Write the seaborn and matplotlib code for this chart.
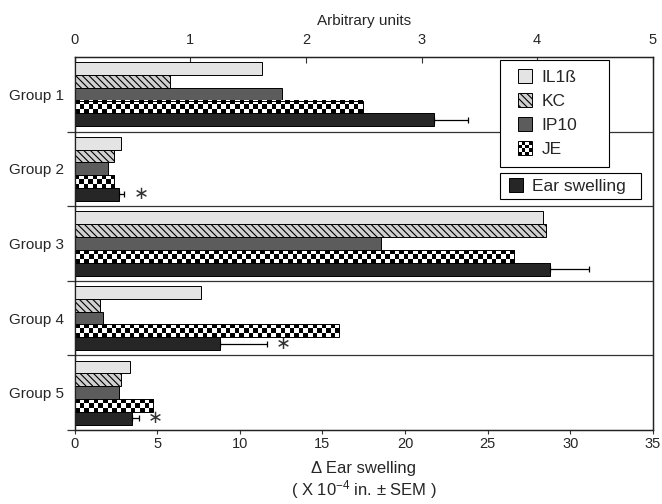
import matplotlib
matplotlib.use('Agg')
import matplotlib.pyplot as plt
from matplotlib.patches import Patch, Rectangle
from matplotlib.colors import to_rgba
from matplotlib.legend_handler import HandlerBase, HandlerPatch
import seaborn as sns
import pandas as pd
import numpy as np

# values
groups = ['Group 1', 'Group 2', 'Group 3', 'Group 4', 'Group 5']
cytokines = ['IL1ß', 'KC', 'IP10', 'JE']
il1b = [1.62, 0.40, 4.05, 1.09, 0.48]
kc = [0.82, 0.34, 4.08, 0.22, 0.40]
ip10 = [1.79, 0.29, 2.65, 0.24, 0.38]
je = [2.49, 0.34, 3.80, 2.29, 0.68]
ear = [21.75, 2.7, 28.8, 8.8, 3.45]
ear_sem = [2.05, 0.3, 2.36, 2.85, 0.42]
significant = [False, True, False, True, True]

arb_ticks = [0, 1, 2, 3, 4, 5]
ear_ticks = [0, 5, 10, 15, 20, 25, 30, 35]

sns.set_theme(style='white')
plt.rcParams['font.family'] = ['Liberation Sans', 'DejaVu Sans']
plt.rcParams['mathtext.default'] = 'regular'
plt.rcParams['hatch.linewidth'] = 0.8

# long table: cytokines on the arbitrary-unit axis, ear swelling on the other
rows = []
for i, g in enumerate(groups):
    for name, vals in zip(cytokines, [il1b, kc, ip10, je]):
        rows.append({'group': g, 'marker': name, 'arb': vals[i], 'ear': np.nan})
    rows.append({'group': g, 'marker': 'Ear swelling', 'arb': np.nan, 'ear': ear[i]})
df = pd.DataFrame(rows)
hue_order = cytokines + ['Ear swelling']

styles = {
    'IL1ß': dict(facecolor='#e4e4e4', hatch=None),
    'KC': dict(facecolor='#d0d0d0', hatch='\\\\\\\\\\'),
    'IP10': dict(facecolor='#5c5c5c', hatch=None),
    'JE': dict(facecolor='white', hatch=None),
    'Ear swelling': dict(facecolor='#262626', hatch=None),
}
palette = {k: v['facecolor'] for k, v in styles.items()}


def square_key(legend, orig_handle, xdescent, ydescent, width, height, fontsize):
    # square key pushed to the right end of the handle box
    return Rectangle((-xdescent + width - height, -ydescent), height, height)


class CheckerHandler(HandlerBase):
    # legend key drawn as a small black/white checkerboard
    def create_artists(self, legend, orig_handle, xdescent, ydescent,
                       width, height, fontsize, trans):
        n = 4
        x0 = -xdescent + width - height
        y0 = -ydescent
        c = height / n
        arts = [Rectangle((x0, y0), height, height, facecolor='white',
                          edgecolor='none', transform=trans)]
        for i in range(n):
            for j in range(n):
                if (i + j) % 2 == 0:
                    arts.append(Rectangle((x0 + i * c, y0 + j * c), c, c,
                                          facecolor='black', edgecolor='none',
                                          transform=trans))
        arts.append(Rectangle((x0, y0), height, height, facecolor='none',
                              edgecolor='black', lw=0.7, transform=trans))
        return arts


fig = plt.figure(figsize=(6.62, 5.04), dpi=100)
ax = fig.add_axes([0.113, 0.147, 0.873, 0.740])
ax_top = ax.twiny()

sns.barplot(data=df, x='ear', y='group', hue='marker', hue_order=hue_order,
            palette=palette, order=groups, width=0.86, errorbar=None,
            legend=False, edgecolor='black', linewidth=0.7, ax=ax)
sns.barplot(data=df, x='arb', y='group', hue='marker', hue_order=hue_order,
            palette=palette, order=groups, width=0.86, errorbar=None,
            legend=False, edgecolor='black', linewidth=0.7, ax=ax_top)

ax.set_xlim(0, 35)
ax_top.set_xlim(0, 5)
ax.set_ylim(len(groups) - 0.5, -0.5)

# hatches, matched by face colour
je_bars = []
for p in ax_top.patches:
    fc = p.get_facecolor()
    if np.allclose(fc, to_rgba(palette['KC'])):
        p.set_hatch(styles['KC']['hatch'])
    elif np.allclose(fc, to_rgba(palette['JE'])) and np.isfinite(p.get_width()) and p.get_width() > 0:
        je_bars.append(p)

# checkerboard fill for JE bars
for p in je_bars:
    x0, y0, w, h = p.get_x(), p.get_y(), p.get_width(), p.get_height()
    a = ax_top.transData.transform((x0, y0))
    b = ax_top.transData.transform((x0 + w, y0 + h))
    ncol = max(1, int(round(abs(b[0] - a[0]) / 4.6)))
    board = np.indices((3, ncol)).sum(axis=0) % 2
    ax_top.imshow(board, cmap='gray', vmin=0, vmax=1, interpolation='nearest',
                  aspect='auto', extent=(x0, x0 + w, y0 + h, y0), zorder=1.5)
    p.set_facecolor('none')
    p.set_zorder(1.6)
ax_top.set_xlim(0, 5)
ax.set_ylim(len(groups) - 0.5, -0.5)

# error bars and asterisks on ear swelling
ear_bars = [p for p in ax.patches
            if np.isfinite(p.get_width()) and p.get_width() > 0]
ear_bars.sort(key=lambda p: p.get_y())
ys = [p.get_y() + p.get_height() / 2 for p in ear_bars]
ax.errorbar(ear, ys, xerr=[np.zeros(len(ear)), ear_sem], fmt='none',
            ecolor='black', elinewidth=0.9, capsize=2.5, capthick=0.9)
for x, e, y, s in zip(ear, ear_sem, ys, significant):
    if s:
        ax.text(x + e + 1.0, y, '\u2217', ha='center', va='center',
                fontsize=13, family='DejaVu Sans', color='#333333')

# group separators
for k in range(len(groups) - 1):
    ax.axhline(k + 0.5, color='#333333', lw=0.9)

ax.set_xticks(ear_ticks)
ax_top.set_xticks(arb_ticks)

ax.set_ylabel('')
ax_top.set_ylabel('')
ax.set_xlabel('\u0394 Ear swelling\n( X 10$^{-4}$ in. \u00b1 SEM )', fontsize=12,
              labelpad=7, linespacing=1.12)
ax_top.set_xlabel('Arbitrary units', fontsize=11, labelpad=6)

ax.tick_params(axis='x', direction='out', length=3, width=0.8, labelsize=10.5,
               color='#333333', bottom=True, pad=2)
ax_top.tick_params(axis='x', direction='in', length=4, width=0.8, labelsize=10.5,
                   color='#333333', top=True, pad=7)
ax.tick_params(axis='y', length=0, labelsize=11, pad=8)
ax.set_yticks(range(len(groups)))
ax.set_yticklabels(groups)
ax.set_yticks(np.arange(0.5, len(groups), 1.0), minor=True)
ax.tick_params(axis='y', which='minor', left=True, direction='out', length=6,
               width=0.9, color='#333333')

for a in (ax, ax_top):
    for sp in a.spines.values():
        sp.set_color('#222222')
        sp.set_linewidth(0.9)

# legends
handles = []
for name in cytokines:
    st = styles[name]
    handles.append(Patch(facecolor=st['facecolor'], edgecolor='black',
                         hatch=st['hatch'], linewidth=0.7, label=name))
hmap = {h: HandlerPatch(patch_func=square_key) for h in handles[:3]}
hmap[handles[3]] = CheckerHandler()
leg1 = ax_top.legend(handles=handles, handler_map=hmap,
                     loc='upper left', bbox_to_anchor=(0.736, 0.70, 0.189, 0.292),
                     mode='expand', frameon=True, fancybox=False, framealpha=1,
                     edgecolor='black', fontsize=12.5, handlelength=1.3,
                     handleheight=0.85, labelspacing=0.46, handletextpad=0.55,
                     borderpad=0.55, borderaxespad=0)
leg1.get_frame().set_linewidth(0.8)
ax_top.add_artist(leg1)
h2 = [Patch(facecolor=styles['Ear swelling']['facecolor'], edgecolor='black',
            linewidth=0.7, label='Ear swelling')]
leg2 = ax_top.legend(handles=h2, handler_map={h2[0]: HandlerPatch(patch_func=square_key)},
                     loc='upper left',
                     bbox_to_anchor=(0.735, 0.60, 0.244, 0.089), mode='expand',
                     frameon=True, fancybox=False, framealpha=1, edgecolor='black',
                     fontsize=12.5, handlelength=1.05, handleheight=0.85,
                     handletextpad=0.5, borderpad=0.3, borderaxespad=0)
leg2.get_frame().set_linewidth(0.8)

fig.savefig('out.png', dpi=100)
